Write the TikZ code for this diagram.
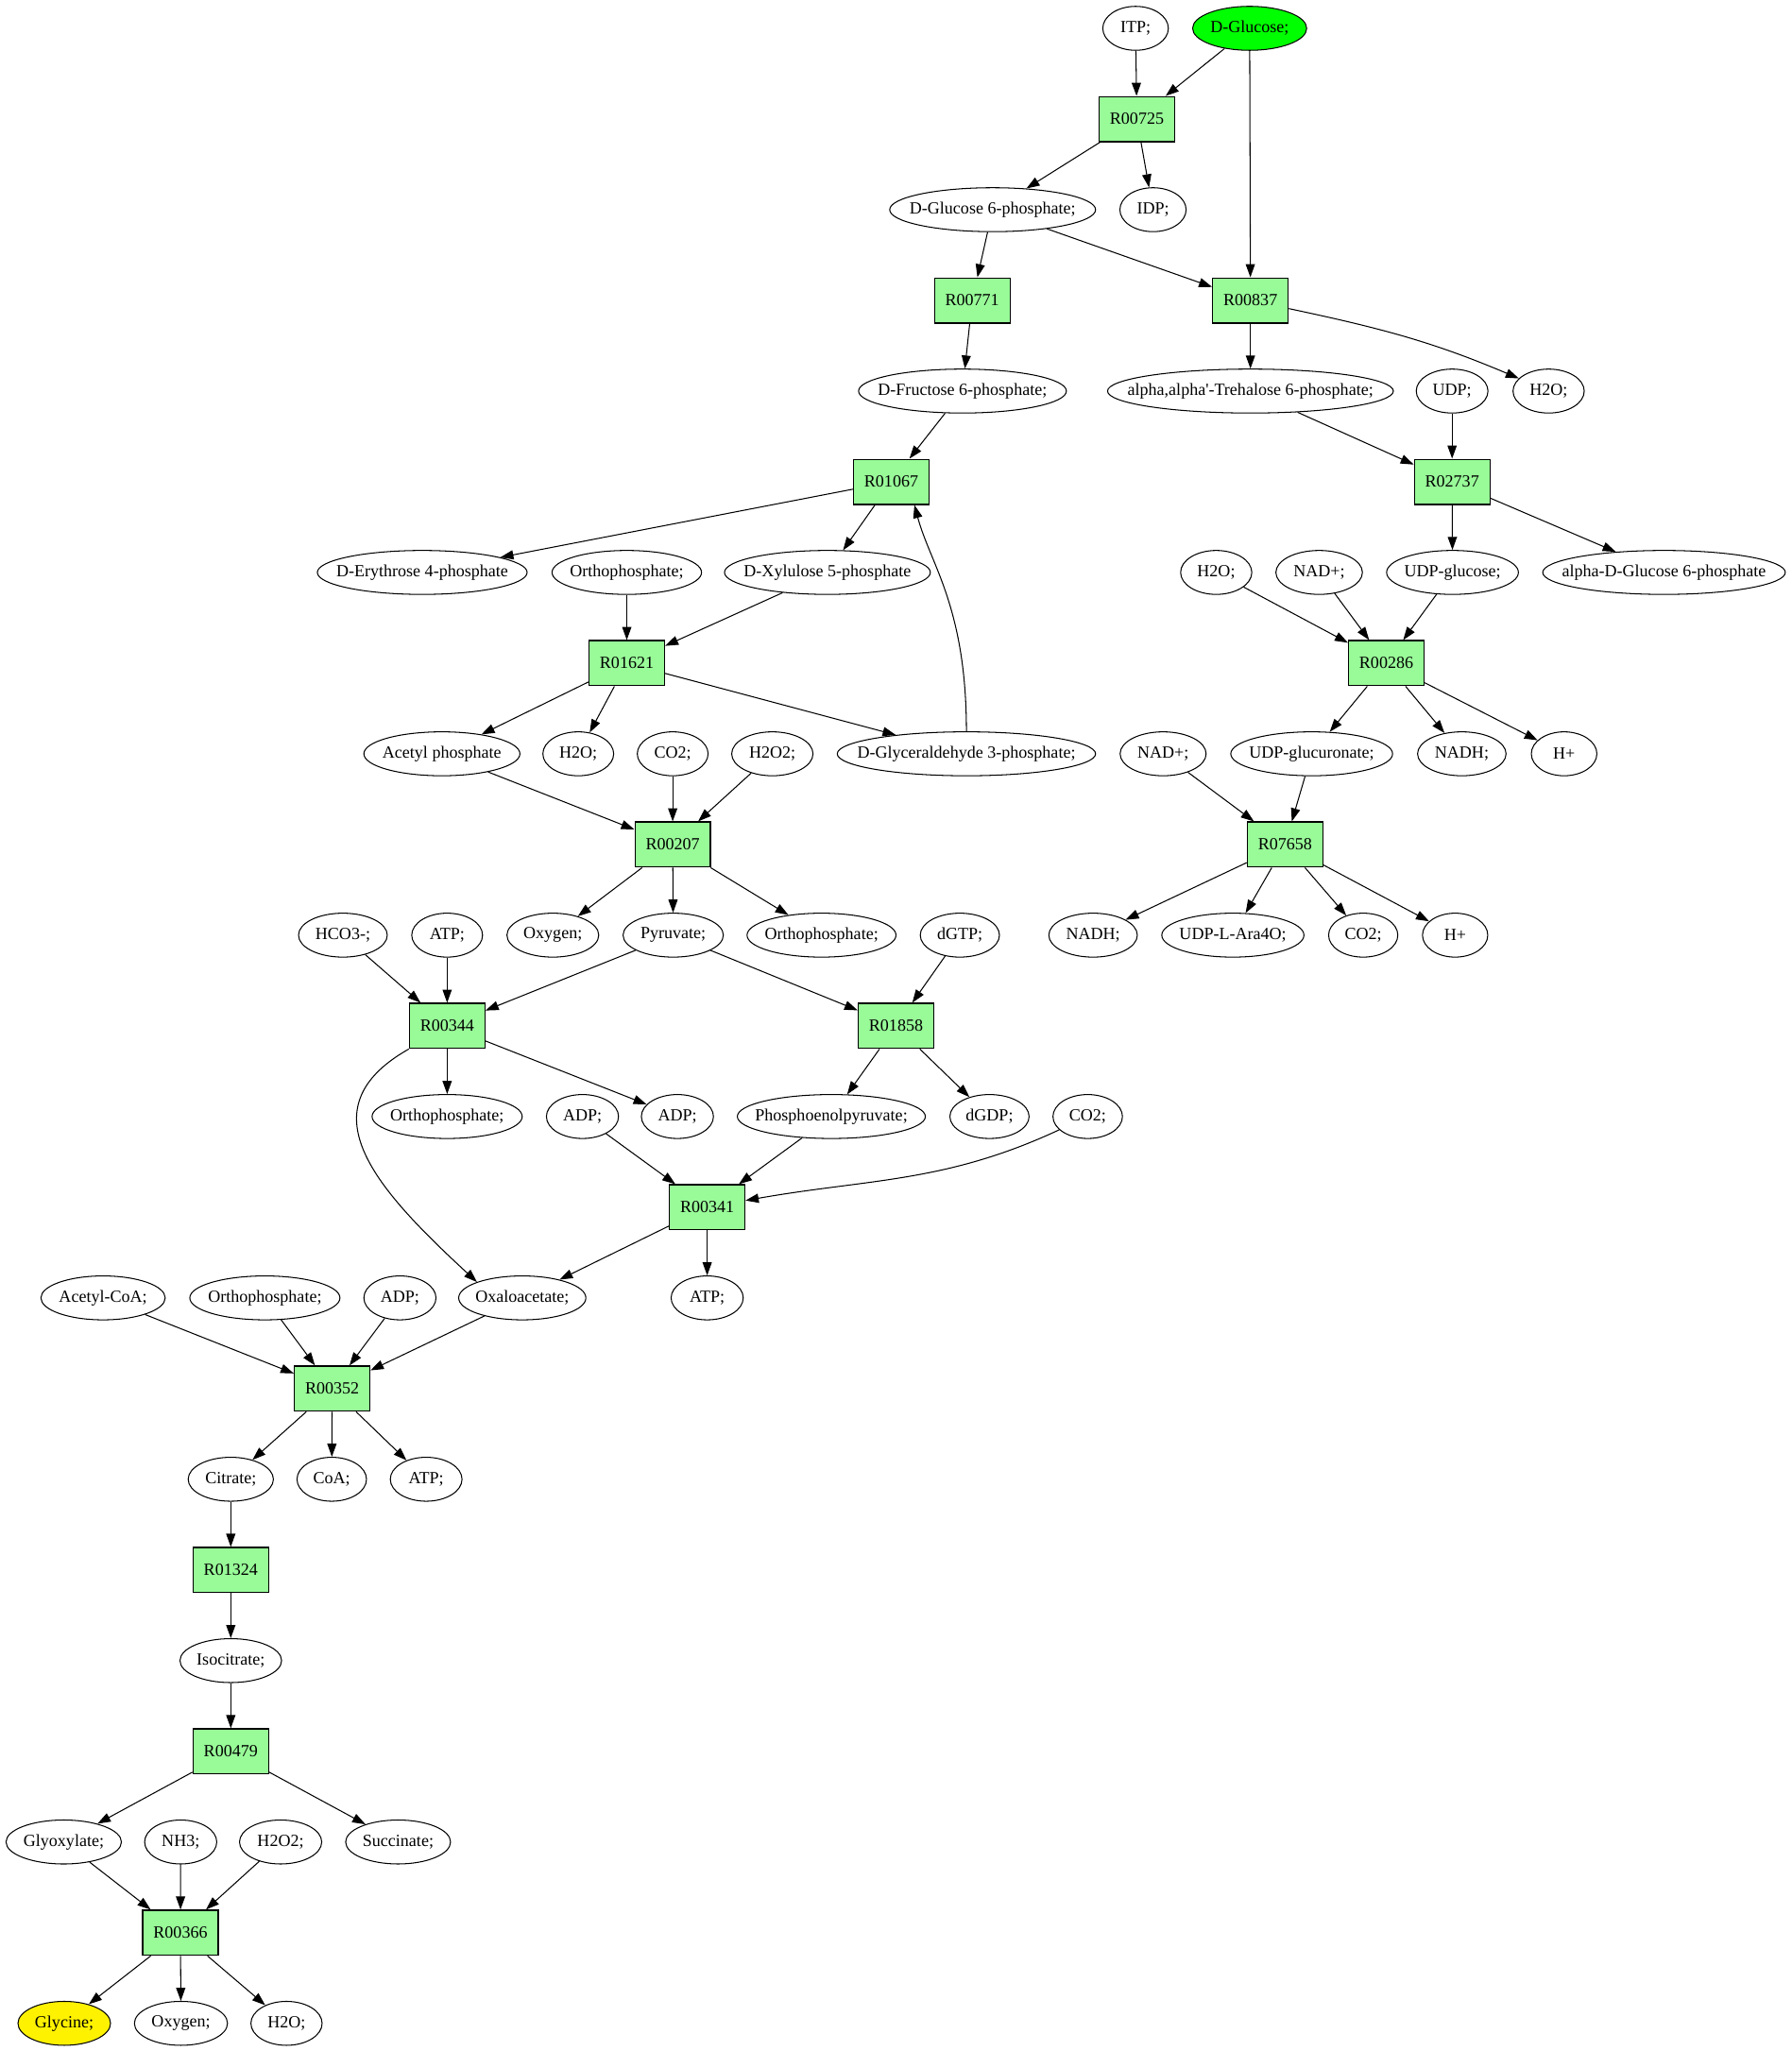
\documentclass[tikz,border=0pt]{standalone}
\usepackage{fontspec}
\setmainfont{Liberation Serif}
\usetikzlibrary{shapes.geometric,arrows.meta}
\definecolor{palegreen}{RGB}{152,251,152}
\begin{document}
\begin{tikzpicture}[x=1pt,y=1pt,
    font=\fontsize{13}{15}\selectfont,
    met/.style={ellipse, draw, line width=0.75pt, inner sep=0pt,
      minimum height=33.5pt, minimum width=#1,
      execute at begin node={\hbox to 0pt\bgroup\hss},
      execute at end node={\hss\egroup}},
    rxn/.style={rectangle, draw, line width=0.9pt, fill=palegreen, inner sep=0pt,
      minimum width=57.6pt, minimum height=34.4pt},
    arr/.style={-{Triangle[length=10pt,width=7pt]}, line width=0.75pt}]
      \useasboundingbox (0,0) rectangle (1366,-1564);
      \node[met=50]                    (ITP)    at (866,-21.6)    {ITP;};
      \node[met=87, fill={rgb,255:red,0;green,255;blue,0}] (Glc) at (953,-21.6) {D-Glucose;};
      \node[rxn]                       (R00725) at (867,-90.8)    {R00725};
      \node[met=157]                   (G6P)    at (757,-159.9)   {D-Glucose 6-phosphate;};
      \node[met=50.5]                  (IDP)    at (879.3,-159.9) {IDP;};
      \node[rxn]                       (R00771) at (741.4,-229.1) {R00771};
      \node[rxn]                       (R00837) at (953.6,-229.1) {R00837};
      \node[met=158.5]                 (F6P)    at (734,-298.2)   {D-Fructose 6-phosphate;};
      \node[met=218]                   (T6P)    at (953.6,-298.2) {alpha,alpha\textquotesingle-Trehalose 6-phosphate;};
      \node[met=54.7]                  (UDP)    at (1107.4,-298.2) {UDP;};
      \node[met=54.3]                  (H2Oa)   at (1181,-298.2)  {H2O;};
      \node[rxn]                       (R01067) at (679.7,-367.4) {R01067};
      \node[rxn]                       (R02737) at (1107.4,-367.4) {R02737};
      \node[met=160]                   (E4P)    at (322,-436.5)   {D-Erythrose 4-phosphate};
      \node[met=114]                   (PiA)    at (478,-436.5)   {Orthophosphate;};
      \node[met=157]                   (X5P)    at (631,-436.5)   {D-Xylulose 5-phosphate};
      \node[met=54.3]                  (H2Ob)   at (927.5,-436.5) {H2O;};
      \node[met=66]                    (NADa)   at (1006,-436.5)  {NAD+;};
      \node[met=100.5]                 (UDPG)   at (1107.7,-436.5) {UDP-glucose;};
      \node[met=185]                   (aG6P)   at (1269,-436.5)  {alpha-D-Glucose 6-phosphate};
      \node[rxn]                       (R01621) at (478,-505.7)   {R01621};
      \node[rxn]                       (R00286) at (1057.2,-505.7) {R00286};
      \node[met=119]                   (AcP)    at (337,-574.8)   {Acetyl phosphate};
      \node[met=54]                    (H2Oc)   at (441,-574.8)   {H2O;};
      \node[met=54]                    (CO2a)   at (513,-574.8)   {CO2;};
      \node[met=62]                    (H2O2a)  at (589,-574.8)   {H2O2;};
      \node[met=197]                   (G3P)    at (737,-574.8)   {D-Glyceraldehyde 3-phosphate;};
      \node[met=65.6]                  (NADb)   at (887,-574.8)   {NAD+;};
      \node[met=123.4]                 (UDPGA)  at (1000.3,-574.8) {UDP-glucuronate;};
      \node[met=67.5]                  (NADHa)  at (1114.8,-574.8) {NADH;};
      \node[met=50]                    (Ha)     at (1192.8,-574.8) {H+};
      \node[rxn]                       (R00207) at (513,-644)     {R00207};
      \node[rxn]                       (R07658) at (980,-644)     {R07658};
      \node[met=67.7]                  (HCO3)   at (261.5,-713.1) {HCO3-;};
      \node[met=54]                    (ATPa)   at (341,-713.1)   {ATP;};
      \node[met=70]                    (O2a)    at (421.6,-713.1) {Oxygen;};
      \node[met=76.5]                  (Pyr)    at (513.4,-713.1) {Pyruvate;};
      \node[met=113.6]                 (PiB)    at (626.5,-713.1) {Orthophosphate;};
      \node[met=60.4]                  (dGTP)   at (732,-713.1)   {dGTP;};
      \node[met=67.5]                  (NADHb)  at (833.6,-713.1) {NADH;};
      \node[met=108.4]                 (Ara)    at (940.2,-713.1) {UDP-L-Ara4O;};
      \node[met=52.8]                  (CO2b)   at (1039.6,-713.1) {CO2;};
      \node[met=49.8]                  (Hb)     at (1109.7,-713.1) {H+};
      \node[rxn]                       (R00344) at (341,-782.3)   {R00344};
      \node[rxn]                       (R01858) at (683.3,-782.3) {R01858};
      \node[met=114.5]                 (PiC)    at (341,-851.4)   {Orthophosphate;};
      \node[met=55]                    (ADPa)   at (444.2,-851.4) {ADP;};
      \node[met=55]                    (ADPb)   at (516.6,-851.4) {ADP;};
      \node[met=143.4]                 (PEP)    at (634,-851.4)   {Phosphoenolpyruvate;};
      \node[met=60.4]                  (dGDP)   at (754.6,-851.4) {dGDP;};
      \node[met=53]                    (CO2c)   at (829.5,-851.4) {CO2;};
      \node[rxn]                       (R00341) at (539.3,-920.6) {R00341};
      \node[met=94.8]                  (AcCoA)  at (78.6,-989.7)  {Acetyl-CoA;};
      \node[met=114.5]                 (PiD)    at (202,-989.7)   {Orthophosphate;};
      \node[met=55]                    (ADPc)   at (305,-989.7)   {ADP;};
      \node[met=97]                    (OAA)    at (398.3,-989.7) {Oxaloacetate;};
      \node[met=55]                    (ATPb)   at (539.3,-989.7) {ATP;};
      \node[rxn]                       (R00352) at (253.3,-1058.9) {R00352};
      \node[met=65]                    (Cit)    at (176,-1128)    {Citrate;};
      \node[met=53]                    (CoA)    at (253,-1128)    {CoA;};
      \node[met=54.7]                  (ATPc)   at (325,-1128)    {ATP;};
      \node[rxn]                       (R01324) at (176,-1197.2)  {R01324};
      \node[met=77.5]                  (ICit)   at (176,-1266.3)  {Isocitrate;};
      \node[rxn]                       (R00479) at (176,-1335.5)  {R00479};
      \node[met=88]                    (Glx)    at (48.6,-1404.6) {Glyoxylate;};
      \node[met=55]                    (NH3)    at (137.8,-1404.6) {NH3;};
      \node[met=62.7]                  (H2O2b)  at (214,-1404.6)  {H2O2;};
      \node[met=80]                    (Suc)    at (303.6,-1404.6) {Succinate;};
      \node[rxn]                       (R00366) at (137.6,-1473.8) {R00366};
      \node[met=70.6, fill=yellow]     (Gly)    at (49,-1542.9)   {Glycine;};
      \node[met=71]                    (O2b)    at (138,-1542.9)  {Oxygen;};
      \node[met=54.3]                  (H2Od)   at (218.5,-1542.9) {H2O;};
      \draw[arr] (ITP)    -- (R00725);
      \draw[arr] (Glc)    -- (R00725);
      \draw[arr] (Glc)    -- (R00837);
      \draw[arr] (R00725) -- (G6P);
      \draw[arr] (R00725) -- (IDP);
      \draw[arr] (G6P)    -- (R00771);
      \draw[arr] (G6P)    -- (R00837);
      \draw[arr] (R00771) -- (F6P);
      \draw[arr] (R00837) -- (T6P);
      \draw[arr] (R00837) to[out=-12,in=157] (H2Oa);
      \draw[arr] (F6P)    -- (R01067);
      \draw[arr] (T6P)    -- (R02737);
      \draw[arr] (UDP)    -- (R02737);
      \draw[arr] (R02737) -- (UDPG);
      \draw[arr] (R02737) -- (aG6P);
      \draw[arr] (R01067) -- (E4P);
      \draw[arr] (R01067) -- (X5P);
      \draw[arr] (G3P.north) .. controls +(0,95) and +(12,-45) .. (R01067.-45);
      \draw[arr] (PiA)    -- (R01621);
      \draw[arr] (X5P)    -- (R01621);
      \draw[arr] (R01621) -- (AcP);
      \draw[arr] (R01621) -- (H2Oc);
      \draw[arr] (R01621) -- (G3P);
      \draw[arr] (H2Ob)   -- (R00286);
      \draw[arr] (NADa)   -- (R00286);
      \draw[arr] (UDPG)   -- (R00286);
      \draw[arr] (R00286) -- (UDPGA);
      \draw[arr] (R00286) -- (NADHa);
      \draw[arr] (R00286) -- (Ha);
      \draw[arr] (AcP)    -- (R00207);
      \draw[arr] (CO2a)   -- (R00207);
      \draw[arr] (H2O2a)  -- (R00207);
      \draw[arr] (NADb)   -- (R07658);
      \draw[arr] (UDPGA)  -- (R07658);
      \draw[arr] (R00207) -- (O2a);
      \draw[arr] (R00207) -- (Pyr);
      \draw[arr] (R00207) -- (PiB);
      \draw[arr] (R07658) -- (NADHb);
      \draw[arr] (R07658) -- (Ara);
      \draw[arr] (R07658) -- (CO2b);
      \draw[arr] (R07658) -- (Hb);
      \draw[arr] (HCO3)   -- (R00344);
      \draw[arr] (ATPa)   -- (R00344);
      \draw[arr] (Pyr)    -- (R00344);
      \draw[arr] (Pyr)    -- (R01858);
      \draw[arr] (dGTP)   -- (R01858);
      \draw[arr] (R00344) -- (PiC);
      \draw[arr] (R00344) -- (ADPb);
      \draw[arr] (R00344.south west) .. controls (232,-845) and (285,-905) .. (OAA.north west);
      \draw[arr] (R01858) -- (PEP);
      \draw[arr] (R01858) -- (dGDP);
      \draw[arr] (ADPa)   -- (R00341);
      \draw[arr] (PEP)    -- (R00341);
      \draw[arr] (CO2c)   to[out=-155,in=10] (R00341);
      \draw[arr] (R00341) -- (OAA);
      \draw[arr] (R00341) -- (ATPb);
      \draw[arr] (AcCoA)  -- (R00352);
      \draw[arr] (PiD)    -- (R00352);
      \draw[arr] (ADPc)   -- (R00352);
      \draw[arr] (OAA)    -- (R00352);
      \draw[arr] (R00352) -- (Cit);
      \draw[arr] (R00352) -- (CoA);
      \draw[arr] (R00352) -- (ATPc);
      \draw[arr] (Cit)    -- (R01324);
      \draw[arr] (R01324) -- (ICit);
      \draw[arr] (ICit)   -- (R00479);
      \draw[arr] (R00479) -- (Glx);
      \draw[arr] (R00479) -- (Suc);
      \draw[arr] (Glx)    -- (R00366);
      \draw[arr] (NH3)    -- (R00366);
      \draw[arr] (H2O2b)  -- (R00366);
      \draw[arr] (R00366) -- (Gly);
      \draw[arr] (R00366) -- (O2b);
      \draw[arr] (R00366) -- (H2Od);
    \end{tikzpicture}
\end{document}
